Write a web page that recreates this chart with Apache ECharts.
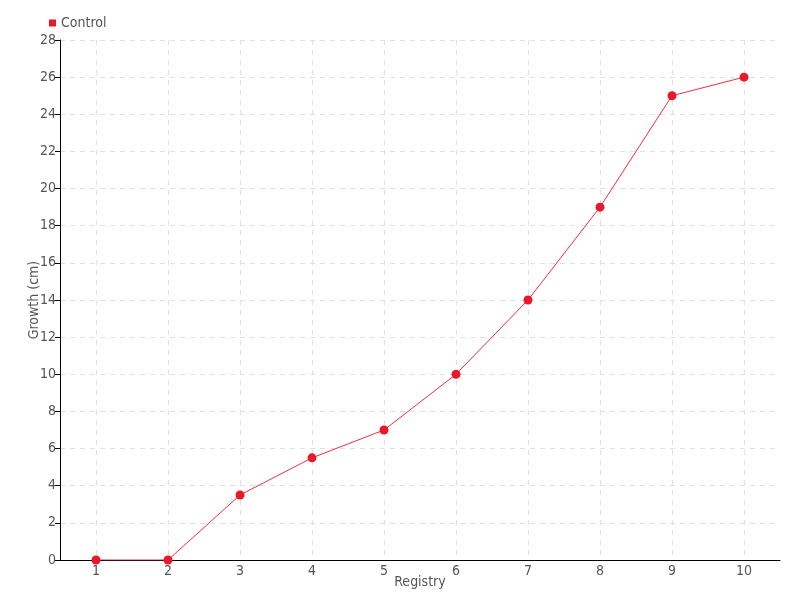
<!DOCTYPE html>
<html><head><meta charset="utf-8">
<script src="https://cdn.jsdelivr.net/npm/echarts@6/dist/echarts.min.js"></script>
<style>html,body{margin:0;padding:0;background:#fff}#c{width:800px;height:600px}</style>
</head><body><div id="c"></div>
<script>
const categories = ['1','2','3','4','5','6','7','8','9','10'];
const controlValues = [0, 0, 3.5, 5.5, 7, 10, 14, 19, 25, 26];
const seriesName = 'Control';
const FONT = '"DejaVu Sans Condensed", "Liberation Sans Narrow", sans-serif';
const chart = echarts.init(document.getElementById('c'), null, {renderer: 'canvas'});
chart.setOption({
  backgroundColor: '#fff',
  animation: false,
  textStyle: {fontFamily: FONT},
  legend: {
    left: 44, top: 11, itemWidth: 7, itemHeight: 7, itemGap: 5,
    icon: 'rect',
    textStyle: {fontFamily: FONT, fontSize: 14, color: '#555'},
    data: [seriesName]
  },
  grid: {left: 60, right: 20, top: 40, bottom: 40, containLabel: false, outerBoundsMode: 'none'},
  xAxis: {
    type: 'category', data: categories, boundaryGap: true,
    name: 'Registry', nameLocation: 'middle', nameGap: 15, nameMoveOverlap: false,
    nameTextStyle: {fontFamily: FONT, fontSize: 14, color: '#555'},
    axisLine: {lineStyle: {color: '#000'}},
    axisTick: {alignWithLabel: true, lineStyle: {color: '#000'}},
    axisLabel: {fontFamily: FONT, fontSize: 14, color: '#555', margin: 4},
    splitLine: {show: true, alignWithLabel: true, lineStyle: {color: '#e0e0e0', type: [5, 5]}}
  },
  yAxis: {
    type: 'value', min: 0, max: 28, interval: 2,
    name: 'Growth (cm)', nameLocation: 'middle', nameGap: 19, nameMoveOverlap: false,
    nameTextStyle: {fontFamily: FONT, fontSize: 14, color: '#555'},
    axisLine: {show: true, lineStyle: {color: '#000'}},
    axisTick: {show: true, lineStyle: {color: '#000'}},
    axisLabel: {fontFamily: FONT, fontSize: 14, color: '#555', margin: 4},
    splitLine: {show: true, lineStyle: {color: '#e0e0e0', type: [5, 5]}}
  },
  series: [{
    name: seriesName, type: 'line', data: controlValues,
    symbol: 'circle', symbolSize: 9,
    itemStyle: {color: '#e8192c'},
    lineStyle: {color: '#f0303f', width: 1}
  }]
});
</script></body></html>
